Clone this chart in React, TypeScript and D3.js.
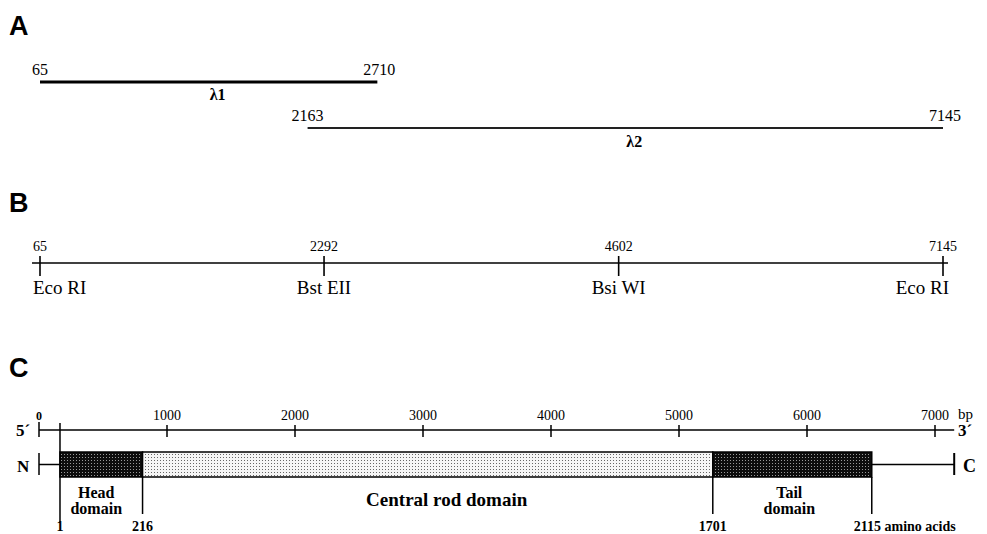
import React from "react";
import * as d3 from "d3";

// Panel A: lambda clones
const cloneNames = ["λ1", "λ2"];
const cloneStarts = [65, 2163];
const cloneEnds = [2710, 7145];

// Panel B: restriction sites
const sitePositions = [65, 2292, 4602, 7145];
const siteEnzymes = ["Eco RI", "Bst EII", "Bsi WI", "Eco RI"];

// Panel C: bp axis and protein domains
const bpTicks = [0, 1000, 2000, 3000, 4000, 5000, 6000, 7000];
const bpEnd = 7150;
const cdsStartBp = 164;
const domainBoundariesAA = [1, 216, 1701, 2115];
const domainNames = [["Head", "domain"], ["Central rod domain"], ["Tail", "domain"]];
const domainShades = ["dark", "light", "dark"];

const SERIF = "'Liberation Serif', 'Times New Roman', serif";
const SANS = "'Liberation Sans', Arial, sans-serif";

export default function App() {
  const xAB = d3.scaleLinear().domain([65, 7145]).range([40, 943]);
  const xC = d3.scaleLinear().domain([0, 7000]).range([39, 935]);
  const aaToBp = (aa: number) => cdsStartBp + 3 * (aa - 1);
  const xAA = (aa: number) => xC(aaToBp(aa));

  const cloneY = [82, 128];
  const cloneLabelY = [100, 147];
  const cloneWidth = [3, 2];

  const lineB = 263;
  const axisY = 430;
  const barTop = 452;
  const barBot = 477;
  const barMid = (barTop + barBot) / 2;

  return (
    <svg
      width={987}
      height={534}
      style={{ position: "absolute", left: 0, top: 0, background: "#fff" }}
    >
      <defs>
        <pattern id="dark" width={3} height={3} patternUnits="userSpaceOnUse">
          <rect width={3} height={3} fill="#0d0d0d" />
          <rect x={1} y={1} width={0.9} height={0.9} fill="#bbb" />
        </pattern>
        <pattern id="light" width={3} height={3} patternUnits="userSpaceOnUse">
          <rect width={3} height={3} fill="#f6f6f6" />
          <rect x={1} y={1} width={1} height={1} fill="#666" />
        </pattern>
      </defs>

      {/* Panel letters */}
      <text x={9} y={35} fontFamily={SANS} fontWeight="bold" fontSize={27}>A</text>
      <text x={9} y={212} fontFamily={SANS} fontWeight="bold" fontSize={27}>B</text>
      <text x={9} y={377} fontFamily={SANS} fontWeight="bold" fontSize={27}>C</text>

      {/* Panel A */}
      {cloneNames.map((name, i) => (
        <g key={name}>
          <line
            x1={xAB(cloneStarts[i])}
            x2={xAB(cloneEnds[i])}
            y1={cloneY[i]}
            y2={cloneY[i]}
            stroke={i === 0 ? "#000" : "#222"}
            strokeWidth={cloneWidth[i]}
          />
          <text
            x={xAB(cloneStarts[i])}
            y={cloneY[i] - 7}
            textAnchor="middle"
            fontFamily={SERIF}
            fontSize={16}
          >
            {cloneStarts[i]}
          </text>
          <text
            x={xAB(cloneEnds[i]) + 2}
            y={cloneY[i] - 7}
            textAnchor="middle"
            fontFamily={SERIF}
            fontSize={16}
          >
            {cloneEnds[i]}
          </text>
          <text
            x={(xAB(cloneStarts[i]) + xAB(cloneEnds[i])) / 2 + 9}
            y={cloneLabelY[i]}
            textAnchor="middle"
            fontFamily={SERIF}
            fontWeight="bold"
            fontSize={16}
          >
            {name}
          </text>
        </g>
      ))}

      {/* Panel B */}
      <line x1={32} x2={948} y1={lineB} y2={lineB} stroke="#000" strokeWidth={1.6} />
      {sitePositions.map((p, i) => {
        const x = xAB(p);
        const last = i === sitePositions.length - 1;
        const anchor = i === 0 ? "start" : last ? "end" : "middle";
        const lx = i === 0 ? x - 7 : last ? x + 6 : x;
        return (
          <g key={i}>
            <line x1={x} x2={x} y1={lineB - 7} y2={lineB + 13} stroke="#000" strokeWidth={1.6} />
            <text x={x} y={lineB - 12} textAnchor="middle" fontFamily={SERIF} fontSize={14}>
              {p}
            </text>
            <text x={lx} y={lineB + 31} textAnchor={anchor} fontFamily={SERIF} fontSize={19}>
              {siteEnzymes[i]}
            </text>
          </g>
        );
      })}

      {/* Panel C: bp axis */}
      <line x1={xC(0)} x2={xC(bpEnd)} y1={axisY} y2={axisY} stroke="#000" strokeWidth={1.5} />
      {bpTicks.map((t) => (
        <g key={t}>
          <line
            x1={xC(t)}
            x2={xC(t)}
            y1={t === 0 ? axisY - 8 : axisY - 5}
            y2={axisY + 7}
            stroke="#000"
            strokeWidth={1.5}
          />
          <text
            x={xC(t)}
            y={axisY - 10}
            textAnchor="middle"
            fontFamily={SERIF}
            fontSize={t === 0 ? 12 : 14}
            fontWeight={t === 0 ? "bold" : "normal"}
          >
            {t}
          </text>
        </g>
      ))}
      <text x={958} y={axisY - 11} fontFamily={SERIF} fontSize={15}>bp</text>
      <text x={16} y={axisY + 6} fontFamily={SERIF} fontWeight="bold" fontSize={17}>5´</text>
      <text x={958} y={axisY + 6} fontFamily={SERIF} fontWeight="bold" fontSize={17}>3´</text>

      {/* Panel C: protein */}
      <line x1={xC(0)} x2={xAA(1)} y1={barMid} y2={barMid} stroke="#000" strokeWidth={1.5} />
      <line x1={xC(0)} x2={xC(0)} y1={barTop + 1} y2={barBot - 2} stroke="#000" strokeWidth={1.5} />
      <line
        x1={xAA(domainBoundariesAA[3])}
        x2={xC(bpEnd)}
        y1={barMid}
        y2={barMid}
        stroke="#000"
        strokeWidth={1.5}
      />
      <line x1={xC(bpEnd)} x2={xC(bpEnd)} y1={barTop + 1} y2={barBot - 2} stroke="#000" strokeWidth={2} />
      <text x={17} y={barMid + 7} fontFamily={SERIF} fontWeight="bold" fontSize={17}>N</text>
      <text x={963} y={barMid + 7} fontFamily={SERIF} fontWeight="bold" fontSize={18}>C</text>

      {domainNames.map((lines, i) => {
        const x0 = xAA(domainBoundariesAA[i]);
        const x1 = xAA(domainBoundariesAA[i + 1]);
        const cx = (x0 + x1) / 2 + (i === 0 ? -5 : i === 2 ? -3 : 19);
        const fs = i === 1 ? 19 : 16;
        return (
          <g key={i}>
            <rect
              x={x0}
              y={barTop}
              width={x1 - x0}
              height={barBot - barTop}
              fill={`url(#${domainShades[i]})`}
              stroke="#000"
              strokeWidth={1.5}
            />
            {lines.map((l, j) => (
              <text
                key={j}
                x={cx}
                y={lines.length === 1 ? 506 : 498 + j * 16}
                textAnchor="middle"
                fontFamily={SERIF}
                fontWeight="bold"
                fontSize={fs}
              >
                {l}
              </text>
            ))}
          </g>
        );
      })}

      {domainBoundariesAA.map((aa, i) => {
        const x = xAA(aa);
        return (
          <g key={aa}>
            <line
              x1={x}
              x2={x}
              y1={i === 0 ? axisY - 7 : barBot}
              y2={i === 0 ? 522 : 514}
              stroke="#000"
              strokeWidth={1.5}
            />
            <text
              x={i === 3 ? x - 18 : x}
              y={531}
              textAnchor={i === 3 ? "start" : "middle"}
              fontFamily={SERIF}
              fontWeight="bold"
              fontSize={14}
            >
              {i === 3 ? `${aa} amino acids` : aa}
            </text>
          </g>
        );
      })}
    </svg>
  );
}
